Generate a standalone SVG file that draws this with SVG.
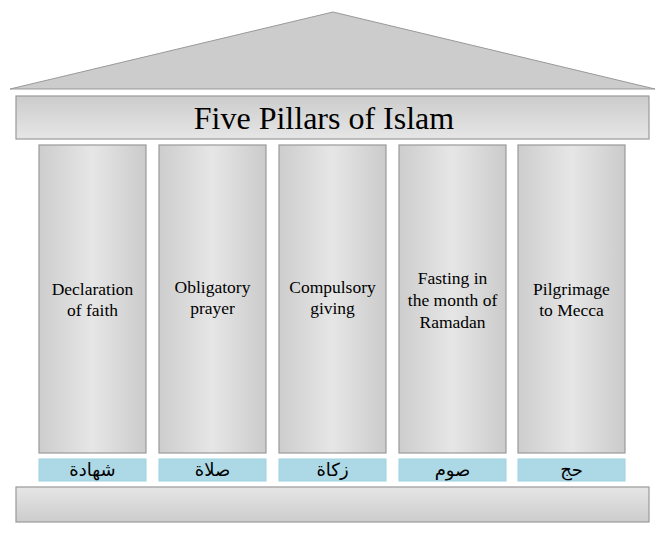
<svg xmlns="http://www.w3.org/2000/svg" width="665" height="543" viewBox="0 0 665 543">
<defs>
<linearGradient id="col" x1="0" y1="0" x2="1" y2="0">
<stop offset="0" stop-color="#cdcdcd"/>
<stop offset="0.5" stop-color="#e6e6e6"/>
<stop offset="1" stop-color="#cbcbcb"/>
</linearGradient>
<linearGradient id="bar" x1="0" y1="0" x2="0" y2="1">
<stop offset="0" stop-color="#e6e6e6"/>
<stop offset="1" stop-color="#cccccc"/>
</linearGradient>
<linearGradient id="frieze" x1="0" y1="0" x2="0" y2="1">
<stop offset="0" stop-color="#cccccc"/>
<stop offset="1" stop-color="#e6e6e6"/>
</linearGradient>
</defs>
<style>
.col{fill:url(#col);stroke:#999;stroke-width:1.2}
.lab{fill:#add8e6;stroke:#9cd3e0;stroke-width:1}
.t{font-family:'Liberation Serif','Times New Roman',serif;font-size:17.5px;fill:#000;text-anchor:middle}
.h{font-family:'Liberation Serif','Times New Roman',serif;font-size:32px;fill:#000;text-anchor:middle}
.ar{font-family:'DejaVu Sans',sans-serif;font-size:18px;fill:#000;text-anchor:middle}
</style>
<g id="roof"><polygon points="10,89 333,12 655,89" fill="#cccccc" stroke="#999" stroke-width="1"/></g>
<g id="title"><rect x="16" y="96" width="633" height="43" fill="url(#frieze)" stroke="#999" stroke-width="1.2"/>
<text class="h" x="324" y="129">Five Pillars of Islam</text></g>
<g id="p1"><rect class="col" x="39" y="145" width="107" height="308"/>
<text class="t" x="92.5" y="295">Declaration</text><text class="t" x="92.5" y="316">of faith</text>
<rect class="lab" x="39" y="459" width="107" height="22"/><text class="ar" x="92.5" y="476">شهادة</text></g>
<g id="p2"><rect class="col" x="159" y="145" width="107" height="308"/>
<text class="t" x="212.5" y="293">Obligatory</text><text class="t" x="212.5" y="314">prayer</text>
<rect class="lab" x="159" y="459" width="107" height="22"/><text class="ar" x="212.5" y="476">صلاة</text></g>
<g id="p3"><rect class="col" x="279" y="145" width="107" height="308"/>
<text class="t" x="332.5" y="293">Compulsory</text><text class="t" x="332.5" y="314">giving</text>
<rect class="lab" x="279" y="459" width="107" height="22"/><text class="ar" x="332.5" y="476">زكاة</text></g>
<g id="p4"><rect class="col" x="399" y="145" width="107" height="308"/>
<text class="t" x="452.5" y="284">Fasting in</text><text class="t" x="452.5" y="306">the month of</text><text class="t" x="452.5" y="328">Ramadan</text>
<rect class="lab" x="399" y="459" width="107" height="22"/><text class="ar" x="452.5" y="476">صوم</text></g>
<g id="p5"><rect class="col" x="518" y="145" width="107" height="308"/>
<text class="t" x="571.5" y="295">Pilgrimage</text><text class="t" x="571.5" y="316">to Mecca</text>
<rect class="lab" x="518" y="459" width="107" height="22"/><text class="ar" x="571.5" y="476">حج</text></g>
<g id="base"><rect x="16" y="487" width="633" height="35" fill="url(#bar)" stroke="#999" stroke-width="1.2"/></g>
<g id="connectors"></g>
</svg>
